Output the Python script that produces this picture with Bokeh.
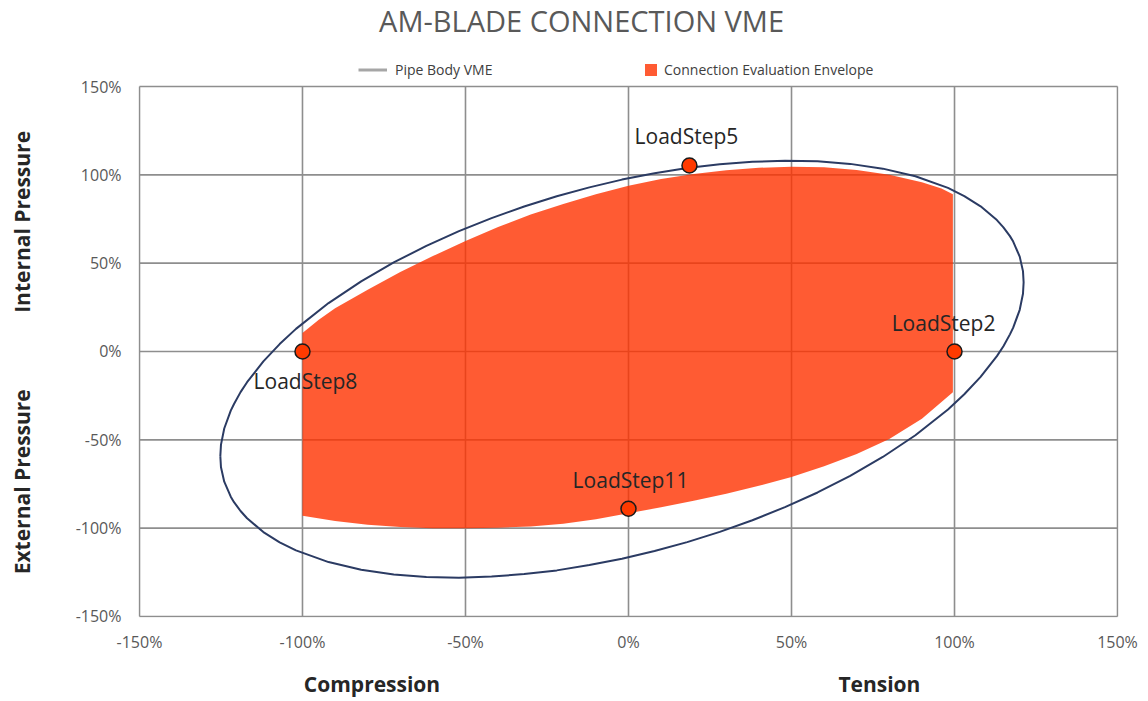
from bokeh.plotting import figure
from bokeh.models import Range1d, FixedTicker, Legend, LegendItem, ColumnDataSource, Label
from bokeh.core.properties import value
from bokeh.embed import file_html
from bokeh.resources import INLINE

# ---------------- data ----------------
ticks = [-150, -100, -50, 0, 50, 100, 150]
tick_labels = ["-150%", "-100%", "-50%", "0%", "50%", "100%", "150%"]

# Pipe Body VME ellipse (% units)
vme_x = [-125.2, -125.0, -124.0, -122.0, -121.0, -119.0, -117.0, -112.0, -107.0, -102.0, -92.0, -82.0,
         -72.0, -62.0, -52.0, -42.0, -32.0, -22.0, -12.0, -2.0, 8.0, 18.0, 28.0, 38.0, 48.0, 58.0, 68.0,
         78.0, 88.0, 98.0, 103.0, 108.0, 113.0, 115.0, 117.0, 118.0, 120.0, 121.0, 121.2,
         121.0, 120.0, 118.0, 117.0, 115.0, 113.0, 108.0, 103.0, 98.0, 88.0, 78.0, 68.0, 58.0, 48.0,
         38.0, 28.0, 18.0, 8.0, -2.0, -12.0, -22.0, -32.0, -42.0, -52.0, -62.0, -72.0, -82.0, -92.0,
         -102.0, -107.0, -112.0, -117.0, -119.0, -121.0, -122.0, -124.0, -125.0, -125.2]
vme_y = [-59.2, -52.7, -43.6, -33.5, -29.7, -23.0, -17.4, -5.6, 4.2, 12.8, 27.4, 39.7,
         50.4, 59.8, 68.1, 75.5, 82.1, 87.9, 92.9, 97.3, 100.9, 103.9, 106.0, 107.4, 108.0, 107.7, 106.2,
         103.5, 99.2, 92.6, 88.0, 82.2, 74.4, 70.3, 65.3, 62.2, 53.7, 45.5, 39.2,
         32.7, 23.6, 13.5, 9.7, 3.0, -2.6, -14.4, -24.2, -32.8, -47.4, -59.7, -70.4, -79.8, -88.1,
         -95.5, -102.1, -107.9, -112.9, -117.3, -120.9, -123.9, -126.0, -127.4, -128.0, -127.7, -126.2, -123.5, -119.2,
         -112.6, -108.0, -102.2, -94.4, -90.3, -85.3, -82.2, -73.7, -65.5, -59.2]

# Connection Evaluation Envelope (outline, % units)
env_x = [-100, -95, -90, -80, -70, -60, -50, -40, -30, -20, -10, 0, 10, 20, 30, 40, 50, 60, 70, 80, 90, 96, 99.5,
         99.5, 90, 80, 70, 60, 50, 40, 30, 20, 10, 0, -10, -20, -30, -40, -50, -60, -70, -80, -90, -100]
env_y = [10.5, 18, 24.5, 35, 45, 54, 62.5, 70.5, 77.5, 83.5, 89, 93.8, 97.6, 100.5, 102.6, 104, 104.6, 104.3, 102.8, 100, 95.8, 92.3, 89,
         -23, -38, -49.5, -58, -65, -71, -76, -80.5, -84.5, -88.2, -91.5, -95, -97.5, -99, -99.7, -100, -100, -99.3, -98, -96, -93]

step_names = ["LoadStep5", "LoadStep2", "LoadStep8", "LoadStep11"]
step_x = [18.7, 100.0, -100.0, 0.0]
step_y = [105.3, 0.0, 0.0, -89.0]

title_text = "AM-BLADE CONNECTION VME"
legend_labels = ["Pipe Body VME", "Connection Evaluation Envelope"]
x_captions = ["Compression", "Tension"]
y_captions = ["External Pressure", "Internal Pressure"]

# ---------------- styling / layout ----------------
label_dx = [-3, -11, 3, 2]
label_dy = [-29, -28, 30, -29]

FONT = "Open Sans"
NB = "\u00a0"
GRID = "#8E8E8E"
NAN = float("nan")
lo, hi = ticks[0], ticks[-1]

# frame reaches the top of the canvas so the title/legend above the plot box are not clipped
p = figure(width=1148, height=701, output_backend="svg", toolbar_location=None,
           x_range=Range1d(-150.3, 150.3), y_range=Range1d(-150.57, 198.68),
           min_border_left=138, min_border_right=30, min_border_top=0, min_border_bottom=84)

p.background_fill_color = "white"
p.border_fill_color = "white"
p.outline_line_color = None
p.grid.visible = False

for ax in (p.xaxis[0], p.yaxis[0]):
    ax.ticker = FixedTicker(ticks=ticks)
    ax.bounds = (lo, hi)
    ax.major_label_overrides = {t: l for t, l in zip(ticks, tick_labels)}
    ax.axis_line_color = None
    ax.major_tick_line_color = None
    ax.minor_tick_line_color = None
    ax.major_label_text_font = FONT
    ax.major_label_text_font_size = "16px"
    ax.major_label_text_color = "#595959"
    ax.axis_label_text_font = FONT
    ax.axis_label_text_font_size = "21px"
    ax.axis_label_text_font_style = "bold"
    ax.axis_label_text_color = "#262626"
p.xaxis.major_label_standoff = 7
p.yaxis.major_label_standoff = 11
p.xaxis.axis_label = x_captions[0] + NB * 73 + x_captions[1] + NB * 6
p.yaxis.axis_label = y_captions[0] + NB * 14 + y_captions[1] + NB * 16
p.xaxis.axis_label_standoff = 14
p.yaxis.axis_label_standoff = 37

# plot box grid (from the tick values)
n = len(ticks)
p.segment(x0=ticks, y0=[lo] * n, x1=ticks, y1=[hi] * n, line_color=GRID, line_width=1.6)
p.segment(x0=[lo] * n, y0=ticks, x1=[hi] * n, y1=ticks, line_color=GRID, line_width=1.6)

# envelope
r_env = p.patch(env_x, env_y, fill_color="#FF3200", fill_alpha=0.8, line_color=None)
# VME ellipse
p.line(vme_x, vme_y, line_color="#2B3B63", line_width=2, line_join="round")

src = ColumnDataSource(dict(x=step_x, y=step_y, name=step_names, dx=label_dx, dy=label_dy))
p.scatter("x", "y", source=src, size=15, fill_color="#FF3A00", line_color="#1A1A1A", line_width=1.5)
p.text("x", "y", text="name", source=src, x_offset="dx", y_offset="dy",
       text_align="center", text_baseline="middle",
       text_font=value(FONT), text_font_size="21px", text_color="#262626")

# title (inside the frame, above the plot box)
p.add_layout(Label(x=-14.4, y=187.4, text=title_text, text_align="center",
                   text_baseline="middle", text_font=FONT, text_font_size="29px",
                   text_color="#595959"))

# legends (gray sample line as in the reference legend)
r_leg1 = p.line(x=[NAN], y=[NAN], line_color="#A6A6A6", line_width=3)
common = dict(orientation="horizontal", padding=0, margin=0, border_line_color=None,
              background_fill_alpha=0, label_text_font=FONT, label_text_font_size="14px",
              label_text_color="#404040", label_height=15, glyph_height=15, spacing=0)
leg1 = Legend(items=[LegendItem(label=legend_labels[0], renderers=[r_leg1])],
              location=(220, 538), glyph_width=29, label_standoff=8, **common)
leg2 = Legend(items=[LegendItem(label=legend_labels[1], renderers=[r_env])],
              location=(505, 538), glyph_width=15, label_standoff=6, **common)
p.add_layout(leg1)
p.add_layout(leg2)

open("out.html", "w").write(file_html(p, INLINE))
